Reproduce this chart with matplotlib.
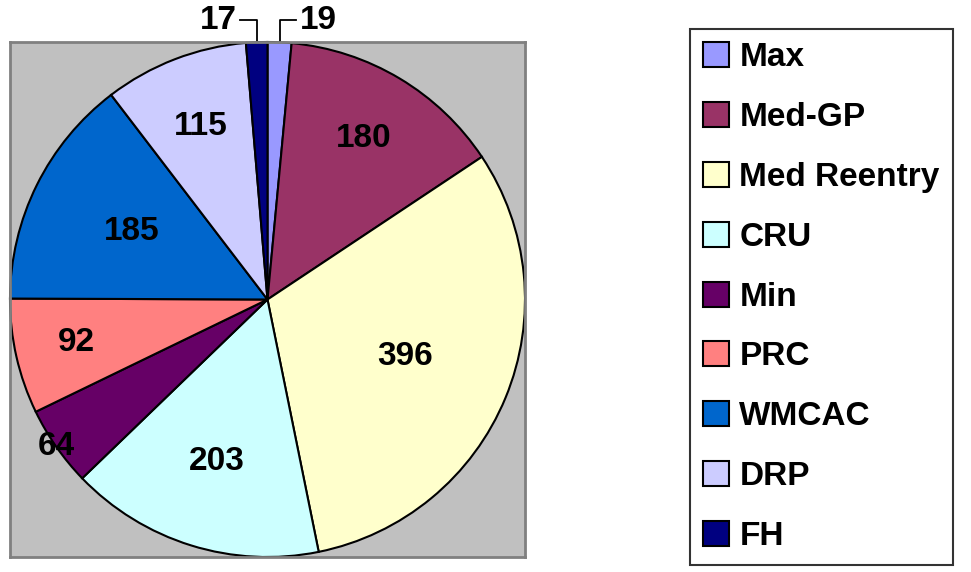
import numpy as np
import matplotlib
matplotlib.use("Agg")
import matplotlib.pyplot as plt

plt.rcParams["font.family"] = ["Liberation Sans", "DejaVu Sans"]
plt.rcParams["font.weight"] = "bold"

labels = ["Max", "Med-GP", "Med Reentry", "CRU", "Min", "PRC", "WMCAC", "DRP", "FH"]
values = [19, 180, 396, 203, 64, 92, 185, 115, 17]
colors = ["#9999FF", "#993366", "#FFFFCC", "#CCFFFF", "#660066",
          "#FF8080", "#0066CC", "#CCCCFF", "#000080"]
# radius of each value label inside the pie (None = outside with leader line)
label_r = [None, 0.73, 0.58, 0.66, 1.0, 0.76, 0.59, 0.72, None]

fig = plt.figure(figsize=(9.71, 5.72), dpi=100)
W, H = 971, 572
ax = fig.add_axes([10 / W, (H - 557) / H, 515 / W, 515 / H])

wedges, _ = ax.pie(values, colors=colors, startangle=90, counterclock=False,
                   radius=1.0, wedgeprops=dict(edgecolor="black", linewidth=1.5))
ax.set_frame_on(True)
ax.patch.set_visible(True)
ax.set_facecolor("#C0C0C0")
for s in ax.spines.values():
    s.set_visible(True)
    s.set_color("#808080")
    s.set_linewidth(2)
ax.set_xlim(-1, 1)
ax.set_ylim(-1, 1)
ax.set_aspect("equal")
ax.set_xticks([])
ax.set_yticks([])

fs = 24
for w, v, r in zip(wedges, values, label_r):
    mid = np.deg2rad((w.theta1 + w.theta2) / 2)
    cx, cy = np.cos(mid), np.sin(mid)
    if r is not None:
        ax.text(r * cx, r * cy, str(v), ha="center", va="center",
                fontsize=fs, fontweight="bold", color="black")
    else:
        side = 1 if cx > 0 else -1
        ytop = 1.085
        xend = cx + side * 0.065
        ax.plot([cx, cx, xend], [cy, ytop, ytop], color="black", lw=1.3,
                clip_on=False)
        ax.text(xend + side * 0.012, ytop, str(v), ha="left" if side > 0 else "right",
                va="center", fontsize=fs, fontweight="bold", clip_on=False)

leg = fig.legend(wedges, labels, loc="upper left",
                 bbox_to_anchor=(690 / W, 1 - 29 / H),
                 fontsize=fs, frameon=True, fancybox=False,
                 handlelength=0.78, handleheight=0.78, handletextpad=0.3,
                 labelspacing=0.86, borderpad=0.4, borderaxespad=0)
leg.get_frame().set_edgecolor("black")
leg.get_frame().set_linewidth(1.5)
for t in leg.get_texts():
    t.set_fontweight("bold")

fig.savefig("out.png", dpi=100)
